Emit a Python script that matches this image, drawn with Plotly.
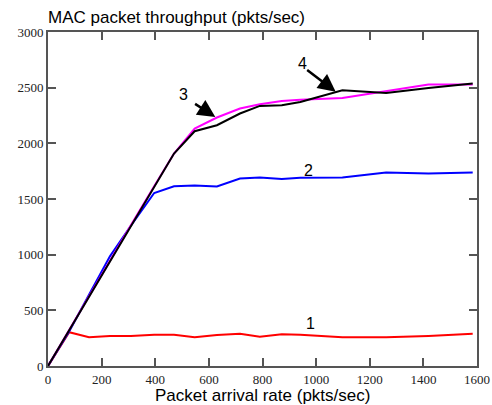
import plotly.graph_objects as go

# ---- data ----
arrival_rate = [0, 79, 153, 231, 309, 396, 470, 547, 630, 716, 790, 872, 941, 1098, 1261, 1419, 1584]
series1 = [0, 303, 258, 270, 270, 281, 281, 258, 278, 290, 263, 285, 281, 258, 258, 270, 290]
series2 = [0, 310, 640, 985, 1260, 1554, 1615, 1621, 1612, 1684, 1693, 1680, 1690, 1693, 1738, 1729, 1738]
series3 = [0, 325, 630, 945, 1265, 1615, 1908, 2133, 2232, 2313, 2351, 2381, 2392, 2408, 2468, 2528, 2528]
series4 = [0, 321, 621, 938, 1255, 1608, 1908, 2109, 2163, 2268, 2336, 2342, 2372, 2477, 2453, 2498, 2537]

x_ticks = [0, 200, 400, 600, 800, 1000, 1200, 1400, 1600]
y_ticks = [0, 500, 1000, 1500, 2000, 2500, 3000]

# label positions (data coords) and arrows
labels = ["1", "2", "3", "4"]
label_x = [979, 973, 505, 948]
label_y = [381, 1759, 2440, 2717]
arrow3 = dict(tail=(543, 2363), tip=(624, 2237))
arrow4 = dict(tail=(961, 2670), tip=(1073, 2464))

W, H = 492, 405
ML, MR, MT, MB = 48, 15, 32, 39

fig = go.Figure()
for ys, col in [(series1, "#ff0000"), (series2, "#0000ff"), (series3, "#ff00ff"), (series4, "#000000")]:
    fig.add_trace(go.Scatter(x=arrival_rate, y=ys, mode="lines",
                             line=dict(color=col, width=2), showlegend=False))

for t, lx, ly in zip(labels, label_x, label_y):
    fig.add_annotation(x=lx, y=ly, xref="x", yref="y", text=t, showarrow=False,
                       font=dict(family="Liberation Sans, Arial", size=16, color="#000"))

for a in (arrow3, arrow4):
    fig.add_annotation(x=a["tip"][0], y=a["tip"][1], ax=a["tail"][0], ay=a["tail"][1],
                       xref="x", yref="y", axref="x", ayref="y", text="",
                       showarrow=True, arrowhead=2, arrowsize=1.4, arrowwidth=2.5,
                       arrowcolor="#000")

# x-axis title, placed at the bottom edge of the figure
fig.add_annotation(x=0.5, y=0, xref="paper", yref="paper", xanchor="center",
                   yanchor="bottom", yshift=-MB - 2, showarrow=False,
                   text="Packet arrival rate (pkts/sec)",
                   font=dict(family="Liberation Sans, Arial", size=17, color="#000"))

axis_common = dict(showgrid=False, zeroline=False, showline=True, linecolor="#555",
                   linewidth=2, mirror="allticks", ticks="inside", ticklen=8,
                   tickwidth=1.5, tickcolor="#555", automargin=False,
                   tickfont=dict(family="Liberation Serif, Times New Roman", size=13, color="#222"))

fig.update_xaxes(range=[0, 1600], tickvals=x_ticks, ticktext=[str(v) for v in x_ticks],
                 **axis_common)
fig.update_yaxes(range=[0, 3000], tickvals=y_ticks, ticktext=[str(v) for v in y_ticks],
                 **axis_common)

fig.update_layout(
    width=W, height=H,
    margin=dict(l=ML, r=MR, t=MT, b=MB, autoexpand=False),
    paper_bgcolor="white", plot_bgcolor="white",
    title=dict(text="MAC packet throughput (pkts/sec)", x=ML / W, xanchor="left",
               y=1 - 17 / H, yanchor="middle",
               font=dict(family="Liberation Sans, Arial", size=17, color="#000")),
)

fig.write_html(
    "out.html",
    config={"displayModeBar": False},
    post_script="document.body.style.margin='0';"
                "document.documentElement.style.overflow='hidden';"
                "document.body.style.overflow='hidden';",
)
